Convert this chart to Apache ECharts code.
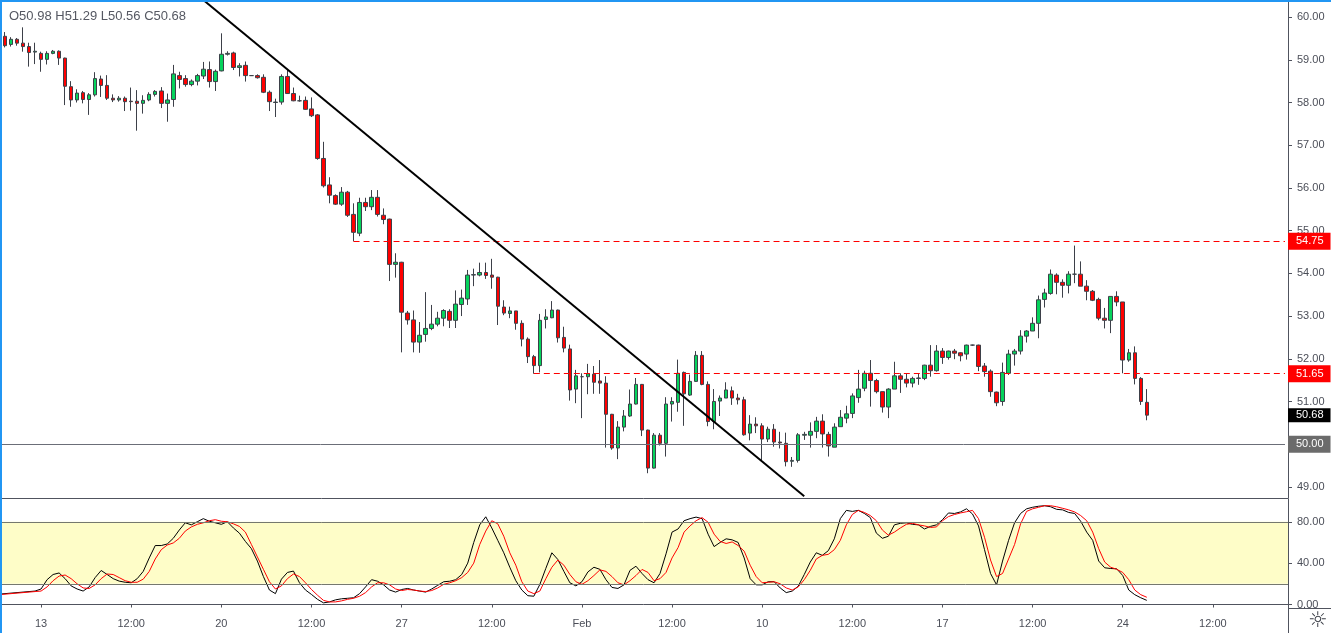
<!DOCTYPE html>
<html><head><meta charset="utf-8">
<script src="https://cdn.jsdelivr.net/npm/echarts@6/dist/echarts.min.js"></script>
<style>
html,body{margin:0;padding:0;background:#fff;overflow:hidden}
#wrap{position:relative;width:1331px;height:633px}
#chart{width:1331px;height:633px}
#focus{position:absolute;left:0;top:0;width:1331px;height:633px;box-sizing:border-box;border-top:2px solid #2196f3;border-left:2px solid #2196f3;pointer-events:none}
</style></head><body>
<div id="wrap"><div id="chart"></div><div id="focus"></div></div>
<script>
// ---- DATA ----
const tickLabels = ['13','12:00','20','12:00','27','12:00','Feb','12:00','10','12:00','17','12:00','24','12:00'];
const firstTickBar = 7, barsPerTick = 15, slotCount = 215;

const openP = [
59.50,59.55,59.36,59.48,59.39,59.31,59.18,59.15,59.01,59.15,
59.20,59.04,58.37,58.06,58.23,58.07,58.18,58.55,58.40,58.10,
58.06,58.10,58.03,58.03,57.98,58.06,58.19,58.27,57.98,58.07,
58.63,58.56,58.42,58.50,58.62,58.77,58.49,58.74,59.13,59.16,
58.82,58.87,58.63,58.63,58.59,58.24,58.00,58.01,58.61,58.21,
58.04,58.05,57.85,57.71,56.69,56.07,55.82,55.62,55.90,55.38,
54.94,55.66,55.56,55.78,55.36,55.27,54.21,54.26,53.07,52.91,
52.39,52.57,52.71,52.81,52.95,53.11,52.90,53.27,53.40,53.96,
53.96,54.02,53.96,53.91,53.21,53.06,53.12,52.83,52.46,52.05,
51.84,52.92,52.96,53.14,52.50,52.23,51.29,51.58,51.58,51.64,
51.48,51.43,50.70,49.91,50.40,50.66,50.94,51.40,50.33,49.44,
50.21,50.02,50.94,50.98,51.68,51.15,51.47,52.08,51.40,50.53,
51.01,51.08,51.25,51.08,51.04,50.26,50.47,50.43,50.12,50.35,
50.05,50.02,49.60,49.62,50.21,50.21,50.30,50.54,50.23,49.93,
50.41,50.61,50.72,51.09,51.31,51.66,51.49,51.23,50.87,51.29,
51.60,51.52,51.43,51.54,51.54,51.85,51.72,52.18,52.03,52.18,
52.14,52.11,52.32,52.32,51.83,51.71,51.22,51.00,51.66,52.11,
52.18,52.53,52.65,52.83,53.39,53.53,53.96,53.79,53.72,53.98,
53.98,53.70,53.58,53.39,52.95,52.90,53.46,53.33,51.97,52.14,
51.54,50.98];
const closeP = [
59.55,59.33,59.48,59.39,59.31,59.17,59.20,59.01,59.15,59.20,
59.04,58.38,58.06,58.22,58.07,58.18,58.56,58.40,58.10,58.06,
58.10,58.02,58.02,57.98,58.05,58.19,58.26,57.98,58.06,58.67,
58.54,58.42,58.50,58.63,58.78,58.49,58.73,59.13,59.15,58.82,
58.86,58.63,58.63,58.58,58.24,58.02,58.01,58.61,58.21,58.04,
58.04,57.84,57.69,56.69,56.05,55.83,55.62,55.90,55.36,54.96,
55.66,55.56,55.78,55.38,55.26,54.21,54.26,53.09,52.91,52.39,
52.55,52.71,52.81,52.95,53.13,52.90,53.28,53.42,53.96,53.97,
54.02,53.95,53.91,53.23,53.07,53.12,52.83,52.46,52.05,51.84,
52.90,52.98,53.14,52.49,52.25,51.27,51.60,51.58,51.65,51.45,
51.43,50.70,49.91,50.40,50.66,50.94,51.40,50.33,49.44,50.21,
50.02,50.94,51.00,51.66,51.18,51.47,52.08,51.40,50.53,51.00,
51.08,51.27,51.08,51.04,50.22,50.47,50.43,50.12,50.35,50.05,
50.03,49.59,49.62,50.22,50.23,50.30,50.54,50.24,49.96,50.40,
50.63,50.71,51.13,51.29,51.66,51.49,51.23,50.87,51.29,51.60,
51.52,51.43,51.54,51.55,51.85,51.72,52.18,52.03,52.18,52.13,
52.07,52.32,52.32,51.82,51.70,51.23,50.97,51.68,52.11,52.18,
52.53,52.65,52.83,53.38,53.54,53.98,53.79,53.72,53.98,53.98,
53.70,53.58,53.37,52.95,52.90,53.46,53.33,51.97,52.14,51.54,
51.00,50.68];
const lowP = [
59.45,59.29,59.31,59.33,59.19,58.84,58.90,58.72,58.89,59.13,
58.88,57.94,57.90,58.00,57.98,57.71,58.14,58.13,58.06,58.01,
58.02,57.80,57.81,57.34,57.74,58.03,58.14,57.87,57.55,57.90,
58.33,58.37,58.38,58.40,58.55,58.35,58.27,58.73,59.10,58.76,
58.61,58.49,58.62,58.56,58.22,57.80,57.66,57.95,58.20,58.03,
58.02,57.83,57.66,56.66,56.01,55.64,55.60,55.58,55.32,54.75,
54.87,55.46,55.48,55.33,55.15,53.82,53.90,52.15,52.80,52.15,
52.14,52.40,52.67,52.76,52.76,52.72,52.72,53.00,53.26,53.70,
53.93,53.87,53.64,52.79,53.02,52.95,52.68,52.29,51.90,51.65,
51.68,52.71,52.95,52.38,52.15,51.02,50.96,50.61,51.17,51.18,
51.18,49.92,49.87,49.65,50.30,50.64,50.93,50.19,49.32,49.43,
49.97,49.71,50.53,50.76,50.43,51.13,51.46,51.38,50.42,50.35,
50.66,51.08,50.92,50.93,50.20,50.09,50.26,49.59,50.05,49.94,
49.90,49.48,49.47,49.57,50.10,49.92,50.14,49.92,49.71,49.93,
50.41,50.49,50.61,50.97,51.24,50.88,51.19,50.74,50.61,51.29,
51.20,51.33,51.33,51.39,51.50,51.58,51.70,51.88,51.98,51.99,
51.94,51.98,52.30,51.71,51.58,51.11,50.89,50.90,51.62,51.84,
52.10,52.38,52.65,52.48,53.20,53.50,53.51,53.43,53.53,53.77,
53.70,53.37,53.35,52.90,52.71,52.60,53.23,51.66,51.93,51.40,
50.92,50.56];
const highP = [
59.62,59.65,59.53,59.51,59.76,59.40,59.40,59.19,59.20,59.23,
59.22,59.05,58.50,58.31,58.27,58.22,58.71,58.63,58.64,58.19,
58.15,58.14,58.35,58.29,58.17,58.24,58.29,58.36,58.21,58.88,
58.72,58.64,58.54,58.67,58.95,58.96,58.77,59.62,59.20,59.19,
58.92,58.96,58.64,58.66,58.66,58.28,58.09,58.66,58.76,58.35,
58.16,58.14,58.12,57.73,57.08,56.25,55.85,56.02,55.93,55.64,
55.77,55.77,55.95,55.95,55.52,55.28,54.47,54.27,53.12,53.13,
52.86,53.56,53.26,53.10,53.16,53.16,53.60,53.62,54.08,54.11,
54.25,54.25,54.34,53.92,53.37,53.22,53.12,52.90,52.50,52.09,
53.05,53.16,53.35,53.15,52.75,52.33,51.74,51.66,51.88,51.83,
51.97,51.59,50.71,50.54,50.80,51.28,51.55,51.41,50.34,50.26,
50.26,51.10,51.10,51.98,51.70,51.63,52.18,52.18,51.47,51.29,
51.14,51.45,51.35,51.18,51.11,50.68,50.63,50.49,50.41,50.47,
50.29,50.27,49.70,50.26,50.29,50.51,50.64,50.70,50.29,50.49,
50.80,50.90,51.19,51.74,51.72,51.97,51.53,51.23,51.31,51.93,
51.66,51.66,51.58,51.66,51.86,52.32,52.32,52.25,52.19,52.23,
52.15,52.33,52.33,52.33,51.90,51.75,51.23,51.91,52.21,52.23,
52.67,52.67,52.97,53.48,53.64,54.09,54.00,53.86,54.05,54.65,
54.28,53.84,53.61,53.43,53.19,53.46,53.58,53.33,52.23,52.29,
51.57,51.29];

const stochK = [
10,10.5,11,11.5,12,12.5,13,15,24,29,
30.5,25,18,15,13,17,26,32.9,29,25,
22.6,21.5,21,25,32,45,57,57,58.5,64,
72,79,77,80,83,80.5,79,77.5,80,74,
69,61,54,42,27,14,10.5,24.5,31,32.3,
21,14,9.7,5,1.6,2.5,4.5,5.5,6,6.5,
10.5,17,24,22.5,19,14,12,14.5,15.5,14,
13,12,15,18.5,22,22.5,24,29,40,60,
77,84.8,74,62,50,36,23,14,8.5,8,
19.4,35,50,43.5,32,21,18,22,31.5,36,
34,24,16.5,15.5,19,33,37,30,24,21,
30,49,70,73,81,83,84.5,83,68,56,
60,63.5,62.5,60,45,25,19,19,22,22,
16,11.5,13,17.7,29,41,50,47.5,52,63.5,
83,91,90,91,88,84,69,64,66,77,
78.5,79,77.5,77,73,75.5,77,82,88.5,88,
89.5,92.5,87.5,76,53,30,19,42,62,79,
88,92.5,94,95,95.5,94.5,92,91.5,89,88,
80.5,70,62,42,35.5,34.8,34.5,28,14,9.5,
6.5,4];
const stochD = [
9.5,10,10.5,11,11.5,12,12.5,13,17,23,
27.5,28.5,25,20,16,15.5,19,25,29.5,29,
26,23,21.5,21.5,24.5,32,44,53,57.5,59.5,
64,71,75,77.5,79,81,82,80.5,80,78,
75.5,70,58,46,34,22,15,18,25,29.5,
27,21,14.5,9,4,2.5,2.5,3.5,5,6,
8,11.5,17,21,21,19,15,13.5,14.5,14,
13,12.5,13.5,16,19.5,21,23,26,31,40,
58,71,81,78,66,50,38,22,13,10.5,
13,25,36,43,38,29,22,19.5,23,28,
33.5,32,27,21,19,23,28,33.9,31,23,
25,31,45,55,70,76,81,84,79.5,68,
61,59,60.5,57,51.6,38,27,21,21.5,22,
20,16,14,17,24,33,44,47.5,48.5,53,
62,77,87,91,89,86,81,72,67,70,
74,77.5,78.5,77,76,74.5,75,81,85,87,
88.5,89.7,91,83,65,43,27,30,44,58,
78,90,92.5,94,95.5,95.5,94.5,93,91.5,89.5,
86,81,70,54,41,36,34,31,24,14,
9.5,7];

const priceLevels = [54.75, 51.65];
const levelStartBar = [59, 89];
const roundLevel = 50.00;
const trendBars = [34, 134];
const trendPrices = [60.40, 48.78];
const stochBands = [20, 80];
const priceMin = 48.74, priceMax = 60.40;
const stochMin = 0, stochMax = 102;

// ---- BUILD ----
const FONT = "'Liberation Sans', Arial, sans-serif";
const AXIS_C = '#50535e', TXT_C = '#4b4e58';
const categories = Array.from({length: slotCount}, (_, i) => String(i));
const isTick = (idx) => idx >= firstTickBar && (idx - firstTickBar) % barsPerTick === 0;
const labelAt = (idx) => isTick(idx) ? (tickLabels[(idx - firstTickBar) / barsPerTick] || '') : '';
const candles = openP.map((o, i) => [o, closeP[i], lowP[i], highP[i]]);
const last = openP.length - 1;
const lastSlot = slotCount - 1;
const fmt = v => v.toFixed(2);

function boxLabel(text, bg, pad) {
  return {show: true, position: 'end', distance: 3, formatter: text,
    color: '#ffffff', backgroundColor: bg, padding: pad || [3, 7, 3, 8],
    fontSize: 11, fontFamily: FONT, borderRadius: 0};
}

const markLines = [];
priceLevels.forEach((p, k) => {
  markLines.push([
    {coord: [levelStartBar[k], p], lineStyle: {color: '#ff0000', width: 1, type: [6, 4]}, label: boxLabel(fmt(p), '#ff0000')},
    {coord: [lastSlot, p]}
  ]);
});
markLines.push([
  {coord: [0, roundLevel], lineStyle: {color: '#6b6e78', width: 1, type: 'solid'}, label: boxLabel(fmt(roundLevel), '#6b6b6b')},
  {coord: [lastSlot, roundLevel]}
]);
markLines.push([
  {coord: [last, closeP[last]], lineStyle: {color: 'rgba(0,0,0,0)', width: 0}, label: boxLabel(fmt(closeP[last]), '#000000', [2, 7, 1, 8])},
  {coord: [lastSlot, closeP[last]]}
]);
markLines.push([
  {coord: [trendBars[0], trendPrices[0]], lineStyle: {color: '#000000', width: 2, type: 'solid'}, label: {show: false}},
  {coord: [trendBars[1], trendPrices[1]]}
]);

const chart = echarts.init(document.getElementById('chart'), null, {renderer: 'canvas'});
chart.setOption({
  animation: false,
  backgroundColor: '#ffffff',
  textStyle: {fontFamily: FONT},
  grid: [
    {left: -4, right: 43, top: 0, height: 498, outerBoundsMode: 'none', containLabel: false},
    {left: -4, right: 43, top: 499, height: 105.5, outerBoundsMode: 'none', containLabel: false}
  ],
  xAxis: [
    {type: 'category', gridIndex: 0, data: categories, boundaryGap: true,
     axisLine: {show: true, lineStyle: {color: AXIS_C, width: 1}},
     axisTick: {show: false}, axisLabel: {show: false}, splitLine: {show: false}},
    {type: 'category', gridIndex: 1, data: categories, boundaryGap: true, offset: 4,
     axisLine: {show: true, lineStyle: {color: AXIS_C, width: 1}},
     axisTick: {show: true, alignWithLabel: true, length: 3, interval: (i) => isTick(i), lineStyle: {color: AXIS_C}},
     axisLabel: {show: true, interval: (i) => isTick(i), formatter: (v, i) => labelAt(i),
       color: TXT_C, fontSize: 11, fontFamily: FONT, margin: 10},
     splitLine: {show: false}}
  ],
  yAxis: [
    {type: 'value', gridIndex: 0, position: 'right', min: priceMin, max: priceMax, splitNumber: 12, scale: true,
     axisLine: {show: true, lineStyle: {color: AXIS_C}},
     axisTick: {show: true, length: 4, lineStyle: {color: AXIS_C}},
     axisLabel: {show: true, formatter: fmt, color: TXT_C, fontSize: 11, fontFamily: FONT, margin: 9,
       showMinLabel: false, showMaxLabel: false},
     splitLine: {show: false}},
    {type: 'value', gridIndex: 1, position: 'right', min: stochMin, max: stochMax, interval: 40,
     axisLine: {show: true, lineStyle: {color: AXIS_C}},
     axisTick: {show: true, length: 4, lineStyle: {color: AXIS_C}},
     axisLabel: {show: true, formatter: fmt, color: TXT_C, fontSize: 11, fontFamily: FONT, margin: 9,
       showMinLabel: true, showMaxLabel: false},
     splitLine: {show: false}}
  ],
  series: [
    {type: 'candlestick', xAxisIndex: 0, yAxisIndex: 0, data: candles, barWidth: 4, silent: true,
     itemStyle: {color: '#06d35c', color0: '#ff0000', borderColor: '#3d4049', borderColor0: '#3d4049',
       borderColorDoji: '#3d4049', borderWidth: 1},
     markLine: {silent: true, symbol: ['none', 'none'], animation: false, data: markLines}},
    {type: 'line', name: 'K', xAxisIndex: 1, yAxisIndex: 1, data: stochK, symbol: 'none', silent: true, z: 3,
     lineStyle: {color: '#000000', width: 1}, itemStyle: {color: '#000000'},
     markArea: {silent: true, itemStyle: {color: '#fefdc8', opacity: 1},
       data: [[{yAxis: stochBands[0]}, {yAxis: stochBands[1]}]]},
     markLine: {silent: true, symbol: ['none', 'none'], label: {show: false},
       lineStyle: {color: '#75786e', width: 1, type: 'solid'},
       data: stochBands.map(b => ({yAxis: b}))}},
    {type: 'line', name: 'D', xAxisIndex: 1, yAxisIndex: 1, data: stochD, symbol: 'none', silent: true, z: 4,
     lineStyle: {color: '#ff0000', width: 1}, itemStyle: {color: '#ff0000'}}
  ],
  graphic: [
    {type: 'text', left: 9, top: 10, silent: true,
     style: {text: 'O' + fmt(openP[last]) + ' H' + fmt(highP[last]) + ' L' + fmt(lowP[last]) + ' C' + fmt(closeP[last]),
       fill: '#555862', font: '13px ' + FONT}},
    {type: 'line', silent: true, shape: {x1: 1288.5, y1: 604, x2: 1288.5, y2: 633}, style: {stroke: AXIS_C, lineWidth: 1}},
    {type: 'line', silent: true, shape: {x1: 1288, y1: 608.5, x2: 1331, y2: 608.5}, style: {stroke: AXIS_C, lineWidth: 1}},
    {type: 'text', left: 1308, top: 610, silent: true, style: {text: '\u263C', fill: '#3d4049', font: '22px DejaVu Sans'}}
  ]
});
</script>
</body></html>
